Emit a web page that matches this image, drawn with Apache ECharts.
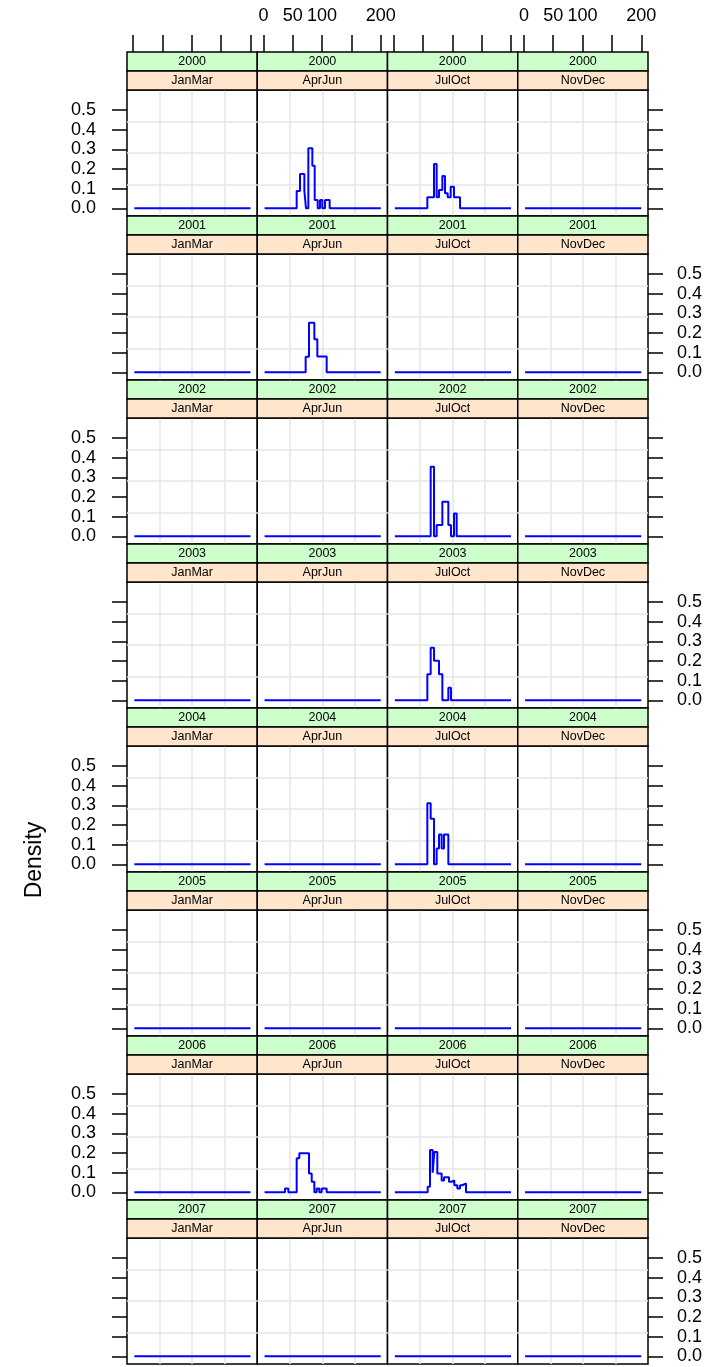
<!DOCTYPE html>
<html>
<head>
<meta charset="utf-8">
<script src="https://cdn.jsdelivr.net/npm/echarts@6/dist/echarts.min.js"></script>
<style>
  html, body { margin: 0; padding: 0; background: #fff; }
  #chart { width: 707px; height: 1367px; }
</style>
</head>
<body>
<div id="chart"></div>
<script>
const years = ['2000', '2001', '2002', '2003', '2004', '2005', '2006', '2007'];
const seasons = ['JanMar', 'AprJun', 'JulOct', 'NovDec'];
const xTicks = [0, 50, 100, 150, 200];
const xTickLabels = [0, 50, 100, 200];
const yTicks = [0, 0.1, 0.2, 0.3, 0.4, 0.5];
const xFrom = 2, xTo = 200;

// step breaks (x where a level starts) and density levels
const aprJun2000X = [56.7, 62.4, 69.8, 72.6, 76.6, 83.4, 87.4, 92.5, 96.5, 100.4, 105, 112.9];
const aprJun2000Y = [0.088, 0.174, 0.088, 0, 0.305, 0.216, 0.042, 0, 0.042, 0, 0.042, 0];
const julOct2000X = [57.4, 68.8, 73.3, 77.3, 83, 87.5, 92.1, 97.2, 102.8, 113.1];
const julOct2000Y = [0.056, 0.225, 0.056, 0.093, 0.164, 0.076, 0.056, 0.11, 0.056, 0];
const aprJun2001X = [72, 77.7, 86.8, 91.9, 107.8];
const aprJun2001Y = [0.079, 0.252, 0.168, 0.08, 0];
const julOct2002X = [63.1, 68.8, 73.3, 83, 93.2, 97.7, 102.8, 107.4];
const julOct2002Y = [0.353, 0, 0.057, 0.176, 0.057, 0, 0.116, 0];
const julOct2003X = [57.4, 63.1, 68.8, 77.3, 83, 93.2, 97.7];
const julOct2003Y = [0.132, 0.267, 0.201, 0.132, 0, 0.064, 0];
const julOct2004X = [57.4, 63.1, 68.8, 73.3, 77.3, 81.8, 85.8, 93.2];
const julOct2004Y = [0.31, 0.232, 0, 0.081, 0.152, 0.08, 0.152, 0];
const aprJun2006X = [36.8, 42.5, 56.7, 61.2, 77.7, 82.3, 86.8, 90.8, 95.3, 99.3, 107.8];
const aprJun2006Y = [0.02, 0, 0.173, 0.198, 0.096, 0.054, 0, 0.02, 0, 0.02, 0];
const julOct2006X = [58, 61.9, 66.5, 69.3, 74.4, 81.8, 85.8, 94.3, 98.9, 103.4, 108.5, 113.1, 117, 123.3];
const julOct2006Y = [0.028, 0.215, 0.1, 0.205, 0.096, 0.06, 0.076, 0.054, 0.06, 0.036, 0.02, 0.036, 0.045, 0];

const steps = {
  '2000 AprJun': [aprJun2000X, aprJun2000Y],
  '2000 JulOct': [julOct2000X, julOct2000Y],
  '2001 AprJun': [aprJun2001X, aprJun2001Y],
  '2002 JulOct': [julOct2002X, julOct2002Y],
  '2003 JulOct': [julOct2003X, julOct2003Y],
  '2004 JulOct': [julOct2004X, julOct2004Y],
  '2006 AprJun': [aprJun2006X, aprJun2006Y],
  '2006 JulOct': [julOct2006X, julOct2006Y]
};

var font = 'Liberation Sans, Arial, sans-serif';
var left0 = 127, top0 = 90, panelW = 130.25, panelH = 126, rowStep = 164, stripH = 19;

var grid = [], xAxis = [], yAxis = [], series = [], graphic = [];

years.forEach(function (yr, r) {
  seasons.forEach(function (ss, c) {
    var i = grid.length;
    var left = left0 + c * panelW;
    var top = top0 + r * rowStep;
    grid.push({
      left: left, top: top, width: panelW, height: panelH,
      show: true, borderColor: '#000', borderWidth: 1.5, backgroundColor: '#fff'
    });
    var topRow = r === 0;
    xAxis.push({
      type: 'value', gridIndex: i, min: -10.5, max: 211.5,
      position: 'top', offset: 2 * stripH,
      axisLine: { show: false, onZero: false },
      splitLine: { show: false },
      axisTick: {
        show: topRow, length: 17, customValues: xTicks,
        lineStyle: { color: '#000', width: 1.5 }
      },
      axisLabel: {
        show: topRow && c % 2 === 1, customValues: xTickLabels, margin: 27,
        fontSize: 18, fontFamily: font, color: '#000'
      }
    });
    xAxis.push({
      type: 'value', gridIndex: i, min: 0, max: 4, interval: 1,
      axisLine: { show: false, onZero: false }, axisTick: { show: false }, axisLabel: { show: false },
      splitLine: { show: true, showMinLine: false, showMaxLine: false, lineStyle: { color: '#e6e6e6', width: 1.5 } }
    });
    var outer = c === 0 || c === 3;
    var labelled = (c === 0 && r % 2 === 0) || (c === 3 && r % 2 === 1);
    yAxis.push({
      type: 'value', gridIndex: i, min: -0.039, max: 0.601,
      position: c === 3 ? 'right' : 'left',
      axisLine: { show: false, onZero: false },
      splitLine: { show: false },
      axisTick: {
        show: outer, length: 15, customValues: yTicks,
        lineStyle: { color: '#000', width: 1.5 }
      },
      axisLabel: {
        show: labelled, customValues: yTicks, margin: c === 3 ? 29 : 31,
        fontSize: 18, fontFamily: font, color: '#000',
        formatter: function (v) { return v.toFixed(1); }
      }
    });
    yAxis.push({
      type: 'value', gridIndex: i, min: 0, max: 4, interval: 1,
      axisLine: { show: false, onZero: false }, axisTick: { show: false }, axisLabel: { show: false },
      splitLine: { show: true, showMinLine: false, showMaxLine: false, lineStyle: { color: '#e6e6e6', width: 1.5 } }
    });

    var st = steps[yr + ' ' + ss];
    var data = [[xFrom, 0]];
    if (st) {
      st[0].forEach(function (x, k) { data.push([x, st[1][k]]); });
    }
    data.push([xTo, 0]);
    series.push({
      type: 'line', xAxisIndex: 2 * i, yAxisIndex: 2 * i,
      step: 'end', showSymbol: false, silent: true,
      lineStyle: { color: '#0000ff', width: 2 },
      data: data
    });

    // strips: year on top (green), season below (peach)
    [[yr, '#ccffcc', top - 2 * stripH], [ss, '#ffe5cc', top - stripH]].forEach(function (s) {
      graphic.push({
        type: 'rect', z: 10,
        shape: { x: left, y: s[2], width: panelW, height: stripH },
        style: { fill: s[1], stroke: '#000', lineWidth: 1.5 }
      });
      graphic.push({
        type: 'text', z: 11,
        style: {
          text: s[0], x: left + panelW / 2, y: s[2] + stripH / 2 + 0.5,
          align: 'center', verticalAlign: 'middle',
          fontSize: 12.5, fontFamily: font, fill: '#000'
        }
      });
    });
  });
});

graphic.push({
  type: 'text', z: 11, x: 35, y: 860, rotation: Math.PI / 2,
  style: {
    text: 'Density', x: 0, y: 0, align: 'center', verticalAlign: 'middle',
    fontSize: 23, fontFamily: font, fill: '#000'
  }
});

var myChart = echarts.init(document.getElementById('chart'));
myChart.setOption({
  animation: false,
  backgroundColor: '#fff',
  grid: grid,
  xAxis: xAxis,
  yAxis: yAxis,
  series: series,
  graphic: graphic
});
window.addEventListener('resize', () => {
  myChart.resize();
});
</script>
</body>
</html>
